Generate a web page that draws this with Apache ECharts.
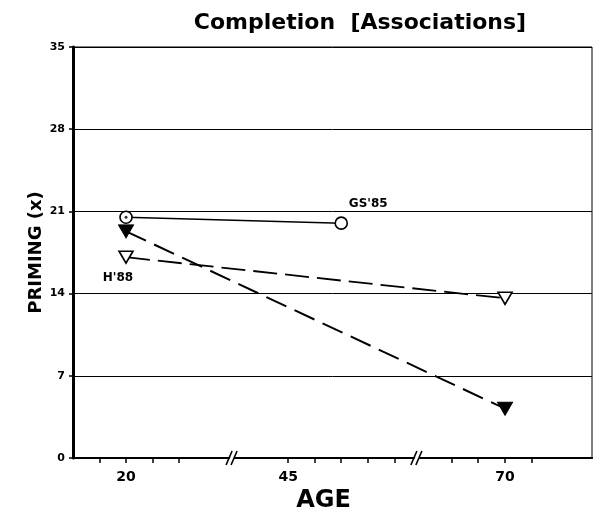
<!DOCTYPE html>
<html><head><meta charset="utf-8">
<script src="https://cdn.jsdelivr.net/npm/echarts@6/dist/echarts.min.js"></script>
<style>html,body{margin:0;padding:0;background:#fff}#c{width:601px;height:513px}</style>
</head><body><div id="c"></div>
<script>
const titleText = 'Completion  [Associations]';
const yAxisName = 'PRIMING (x)';
const xAxisName = 'AGE';
const yTicks = [0, 7, 14, 21, 28, 35];
const xTickValues = [15, 20, 25, 30, 45, 50, 55, 60, 65, 66.48, 67.15, 70, 75];
const xLabelValues = [20, 45, 70];
const axisBreaks = [[35, 40, 10.6], [65, 67.5, 18.4]];
const breakMarks = [37.36, 65.58];
const gsName = "GS'85";
const gsAge = [20, 55];
const gsPriming = [20.5, 20.0];
const hName = "H'88";
const hAge = [20, 70];
const hPriming = [17.1, 13.6];
const fName = 'filled';
const fAge = [20, 70];
const fPriming = [19.3, 4.2];

const FONT = 'DejaVu Sans';
const chart = echarts.init(document.getElementById('c'), null, {renderer: 'canvas'});

function pts(xs, ys) { return xs.map((x, i) => [x, ys[i]]); }

const gsData = pts(gsAge, gsPriming).map((v, i) => i === 1 ? {
  value: v,
  label: {show: true, formatter: '{a}', position: 'inside', offset: [27, -19],
    color: '#000', fontFamily: FONT, fontWeight: 'bold', fontSize: 12}
} : v);
const hData = pts(hAge, hPriming).map((v, i) => i === 0 ? {
  value: v,
  label: {show: true, formatter: '{a}', position: 'inside', offset: [-8, 21],
    color: '#000', fontFamily: FONT, fontWeight: 'bold', fontSize: 12}
} : v);

chart.setOption({
  animation: false,
  backgroundColor: '#fff',
  title: {
    text: titleText, left: 355, top: 7, textAlign: 'center',
    textStyle: {fontFamily: FONT, fontWeight: 'bold', fontSize: 22, color: '#000'}
  },
  grid: {left: 73, right: 9, top: 47, bottom: 55, show: true, borderColor: '#000', borderWidth: 1,
    containLabel: false, outerBoundsMode: 'none'},
  xAxis: [{
    type: 'value', min: 10, max: 86.4,
    breaks: axisBreaks.map(b => ({start: b[0], end: b[1], gap: b[2]})),
    breakArea: {show: false},
    axisLine: {show: true, onZero: false, lineStyle: {color: '#000', width: 2}},
    axisTick: {show: true, length: 5, inside: false, customValues: xTickValues, lineStyle: {color: '#000', width: 1.5}},
    axisLabel: {show: true, customValues: xLabelValues, margin: 12, color: '#000', fontFamily: FONT, fontWeight: 'bold', fontSize: 14},
    splitLine: {show: false},
    name: xAxisName, nameLocation: 'middle', nameGap: 30,
    nameTextStyle: {fontFamily: FONT, fontWeight: 'bold', fontSize: 24, color: '#000', padding: [0, 18, 0, 0]}
  }, {
    type: 'value', min: 0, max: 1, position: 'bottom', offset: 0,
    axisLine: {show: true, onZero: false, lineStyle: {color: '#000', width: 2}},
    axisTick: {show: false}, axisLabel: {show: false}, splitLine: {show: false}
  }],
  yAxis: {
    type: 'value', min: 0, max: 35, interval: 7,
    axisLine: {show: true, lineStyle: {color: '#000', width: 3}},
    axisTick: {show: true, length: 4, lineStyle: {color: '#000', width: 1.5}},
    axisLabel: {color: '#000', fontFamily: FONT, fontWeight: 'bold', fontSize: 11, margin: 8,
      customValues: yTicks},
    splitLine: {show: true, lineStyle: {color: '#000', width: 1}},
    name: yAxisName, nameLocation: 'middle', nameGap: 28, nameRotate: 90, nameMoveOverlap: false,
    nameTextStyle: {fontFamily: FONT, fontWeight: 'bold', fontSize: 18, color: '#000'}
  },
  series: [
    {
      name: gsName, type: 'line', data: gsData,
      symbol: 'circle', symbolSize: 12, z: 5,
      itemStyle: {color: '#fff', borderColor: '#000', borderWidth: 1.6},
      lineStyle: {color: '#000', width: 1.5}
    },
    {
      name: 'gsCentre', type: 'scatter', data: [[gsAge[0], gsPriming[0]]],
      symbol: 'circle', symbolSize: 3, z: 6, silent: true,
      itemStyle: {color: '#000'}
    },
    {
      name: hName, type: 'line', data: hData,
      symbol: 'triangle', symbolRotate: 180, symbolSize: [14, 12], z: 5,
      itemStyle: {color: '#fff', borderColor: '#000', borderWidth: 1.6},
      lineStyle: {color: '#000', width: 1.8, type: [24, 8]}
    },
    {
      name: fName, type: 'line', data: pts(fAge, fPriming),
      symbol: 'triangle', symbolRotate: 180, symbolSize: [15, 13], z: 5,
      itemStyle: {color: '#000', borderColor: '#000', borderWidth: 1},
      lineStyle: {color: '#000', width: 2, type: [22, 9]}
    },
    {
      type: 'custom', clip: false, z: 10, silent: true,
      data: breakMarks.map(x => [x, 0]),
      renderItem: function (params, api) {
        const p = api.coord([api.value(0), api.value(1)]);
        const x = p[0], y = p[1];
        return {type: 'group', children: [
          {type: 'polygon', shape: {points: [[x - 5, y + 7], [x - 1, y + 7], [x + 5, y - 7], [x + 1, y - 7]]}, style: {fill: '#fff'}},
          {type: 'line', shape: {x1: x - 6, y1: y + 7, x2: x, y2: y - 7}, style: {stroke: '#000', lineWidth: 1.6}},
          {type: 'line', shape: {x1: x - 1, y1: y + 7, x2: x + 5, y2: y - 7}, style: {stroke: '#000', lineWidth: 1.6}}
        ]};
      }
    }
  ]
});
</script></body></html>
